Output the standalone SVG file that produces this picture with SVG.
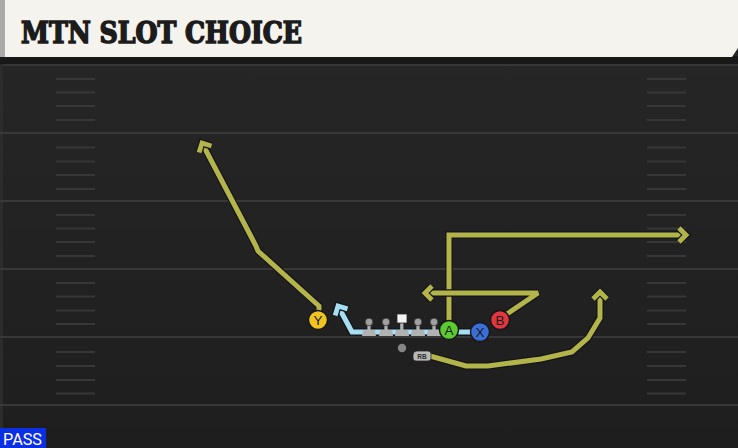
<svg xmlns="http://www.w3.org/2000/svg" xmlns:xlink="http://www.w3.org/1999/xlink" width="738" height="448" viewBox="0 0 738 448">
<defs>
<style>
.yard{stroke:#383838;stroke-width:2}
.hash{stroke:#373737;stroke-width:2}
.rt-o{fill:none;stroke:#15151c;stroke-width:7.4;stroke-linejoin:miter;stroke-miterlimit:2.2;stroke-linecap:butt}
.rt{fill:none;stroke:#b3b449;stroke-width:5;stroke-linejoin:miter;stroke-miterlimit:2.2;stroke-linecap:butt}
.bl{fill:none;stroke:#a6def2;stroke-width:5;stroke-linejoin:miter;stroke-miterlimit:2.2}
.pl{stroke:#15151c;stroke-width:1.4}
.lt{font-family:"Liberation Sans",Arial,sans-serif;font-size:13.5px;fill:#1a1a1a;text-anchor:middle}
.lm{fill:#b2b2b2}
</style>
<linearGradient id="fieldg" x1="0" y1="0" x2="0" y2="1">
<stop offset="0" stop-color="#272727"/>
<stop offset="1" stop-color="#1e1e1e"/>
</linearGradient>
<marker id="arr" markerUnits="userSpaceOnUse" markerWidth="30" markerHeight="30" refX="0" refY="0" orient="auto" overflow="visible" viewBox="-15 -15 30 30">
<path d="M -7 -7 L 0 0 L -7 7" fill="none" stroke="#15151c" stroke-width="7.4"/>
<path d="M -7 -7 L 0 0 L -7 7" fill="none" stroke="#b3b449" stroke-width="4.8"/>
</marker>
<marker id="arrb" markerUnits="userSpaceOnUse" markerWidth="30" markerHeight="30" refX="0" refY="0" orient="auto" overflow="visible" viewBox="-15 -15 30 30">
<path d="M -7 -7 L 0 0 L -7 7" fill="none" stroke="#15151c" stroke-width="7.4"/>
<path d="M -7 -7 L 0 0 L -7 7" fill="none" stroke="#a6def2" stroke-width="4.8"/>
</marker>
<g id="lineman">
<rect x="-1.6" y="0" width="3.2" height="9" class="lm"/>
<path d="M -6 8 L 6 8 L 7 14 L -7 14 Z" class="lm"/>
<circle cx="0" cy="0" r="3.8" fill="#a0a0a0" stroke="#3a3a3a" stroke-width="0.8"/>
</g>
</defs>

<!-- background -->
<rect x="0" y="0" width="738" height="448" fill="url(#fieldg)"/>
<rect x="0" y="56" width="738" height="8" fill="#181818"/>
<rect x="0" y="64" width="738" height="2" fill="#363636"/>
<rect x="0" y="64" width="3" height="384" fill="#2c2c2c"/>

<!-- header -->
<g id="header">
<polygon points="5,0 738,0 738,48 732,57 5,57" fill="#f5f3ed"/>
<rect x="0" y="0" width="5" height="57" fill="#a9a9a9"/>
<text x="21" y="43" font-family="'DejaVu Serif',serif" font-weight="bold" font-size="29" fill="#1c1c1c" stroke="#1c1c1c" stroke-width="1.6" stroke-linejoin="miter" textLength="281" lengthAdjust="spacingAndGlyphs">MTN SLOT CHOICE</text>
</g>

<!-- field lines -->
<g id="field">
<line class="yard" x1="0" y1="133" x2="738" y2="133"/>
<line class="yard" x1="0" y1="201" x2="738" y2="201"/>
<line class="yard" x1="0" y1="269" x2="738" y2="269"/>
<line class="yard" x1="0" y1="337" x2="738" y2="337"/>
<line class="yard" x1="0" y1="405" x2="738" y2="405"/>
<g id="hashes">
<path class="hash" d="M56 79H95M56 92.5H95M56 106H95M56 120H95M56 147.5H95M56 161.5H95M56 175H95M56 189H95M56 215H95M56 228.5H95M56 242H95M56 256H95M56 283H95M56 296.5H95M56 310.5H95M56 324H95M56 352H95M56 366H95M56 380H95M56 393.5H95"/>
<path class="hash" d="M647 79H686M647 92.5H686M647 106H686M647 120H686M647 147.5H686M647 161.5H686M647 175H686M647 189H686M647 215H686M647 228.5H686M647 242H686M647 256H686M647 283H686M647 296.5H686M647 310.5H686M647 324H686M647 352H686M647 366H686M647 380H686M647 393.5H686"/>
</g>
</g>

<!-- connectors / routes -->
<g id="routes">
<path class="rt-o" d="M319 312 L319 306 L258 251 L256 246 L202 143"/>
<path class="rt" d="M319 312 L319 306 L258 251 L256 246 L202 143" marker-end="url(#arr)"/>
<path class="rt-o" d="M449 322 L449 235 L686 235"/>
<path class="rt" d="M449 322 L449 235 L686 235" marker-end="url(#arr)"/>
<path class="rt-o" d="M507 314 L538 293 L425 293"/>
<path class="rt" d="M507 314 L538 293 L425 293" marker-end="url(#arr)"/>
<path class="rt-o" d="M430 356 L466 366 L488 366 L541 359 L572 352 L588 338 L600 318 L600 292"/>
<path class="rt" d="M430 356 L466 366 L488 366 L541 359 L572 352 L588 338 L600 318 L600 292" marker-end="url(#arr)"/>
<path d="M472 332 L352 332 L338 306" fill="none" stroke="#15151c" stroke-width="7.4" stroke-miterlimit="2.2"/>
<path class="bl" d="M472 332 L352 332 L338 306" marker-end="url(#arrb)"/>
</g>

<!-- offensive line -->
<g id="oline">
<use xlink:href="#lineman" x="369" y="322"/>
<use xlink:href="#lineman" x="386" y="322"/>
<use xlink:href="#lineman" x="418" y="322"/>
<use xlink:href="#lineman" x="434" y="322"/>
<g id="center">
<rect x="400.2" y="320" width="3.2" height="10" class="lm"/>
<path d="M396 330 L408 330 L409 336 L395 336 Z" class="lm"/>
<rect x="397" y="314" width="10" height="9" fill="#f4f4f4" stroke="#2a2a2a" stroke-width="0.8"/>
</g>
</g>

<g id="qb"><circle cx="402" cy="348" r="4.2" fill="#858585"/></g>

<g id="rb">
<path d="M417 351 L428 351 Q431 351 431 354 L431 358 Q431 361 428 361 L416 361 Q413 361 413 358 L413 355 Q413 351 417 351 Z" fill="#b9b9b9" stroke="#2a2a2a" stroke-width="0.8"/>
<text x="422" y="358.6" font-family="'Liberation Sans',Arial,sans-serif" font-size="6.5" font-weight="bold" fill="#2a2a2a" text-anchor="middle">RB</text>
</g>

<g id="Y"><circle cx="318" cy="320" r="9.5" fill="#f1c320" class="pl"/><text class="lt" x="318" y="325">Y</text></g>
<g id="A"><circle cx="449" cy="330" r="9.5" fill="#5dcb30" class="pl"/><text class="lt" x="449" y="335">A</text></g>
<g id="X"><circle cx="480" cy="332" r="9.5" fill="#3b6fd6" class="pl"/><text class="lt" x="480" y="337">X</text></g>
<g id="B"><circle cx="500" cy="320" r="9.5" fill="#df3640" class="pl"/><text class="lt" x="500" y="325">B</text></g>

<g id="pass">
<rect x="0" y="428" width="46" height="20" fill="#0b2fe4"/>
<text x="3" y="445" font-family="Roboto,'Liberation Sans',sans-serif" font-size="16" fill="#ffffff" textLength="39" lengthAdjust="spacingAndGlyphs">PASS</text>
</g>
</svg>
